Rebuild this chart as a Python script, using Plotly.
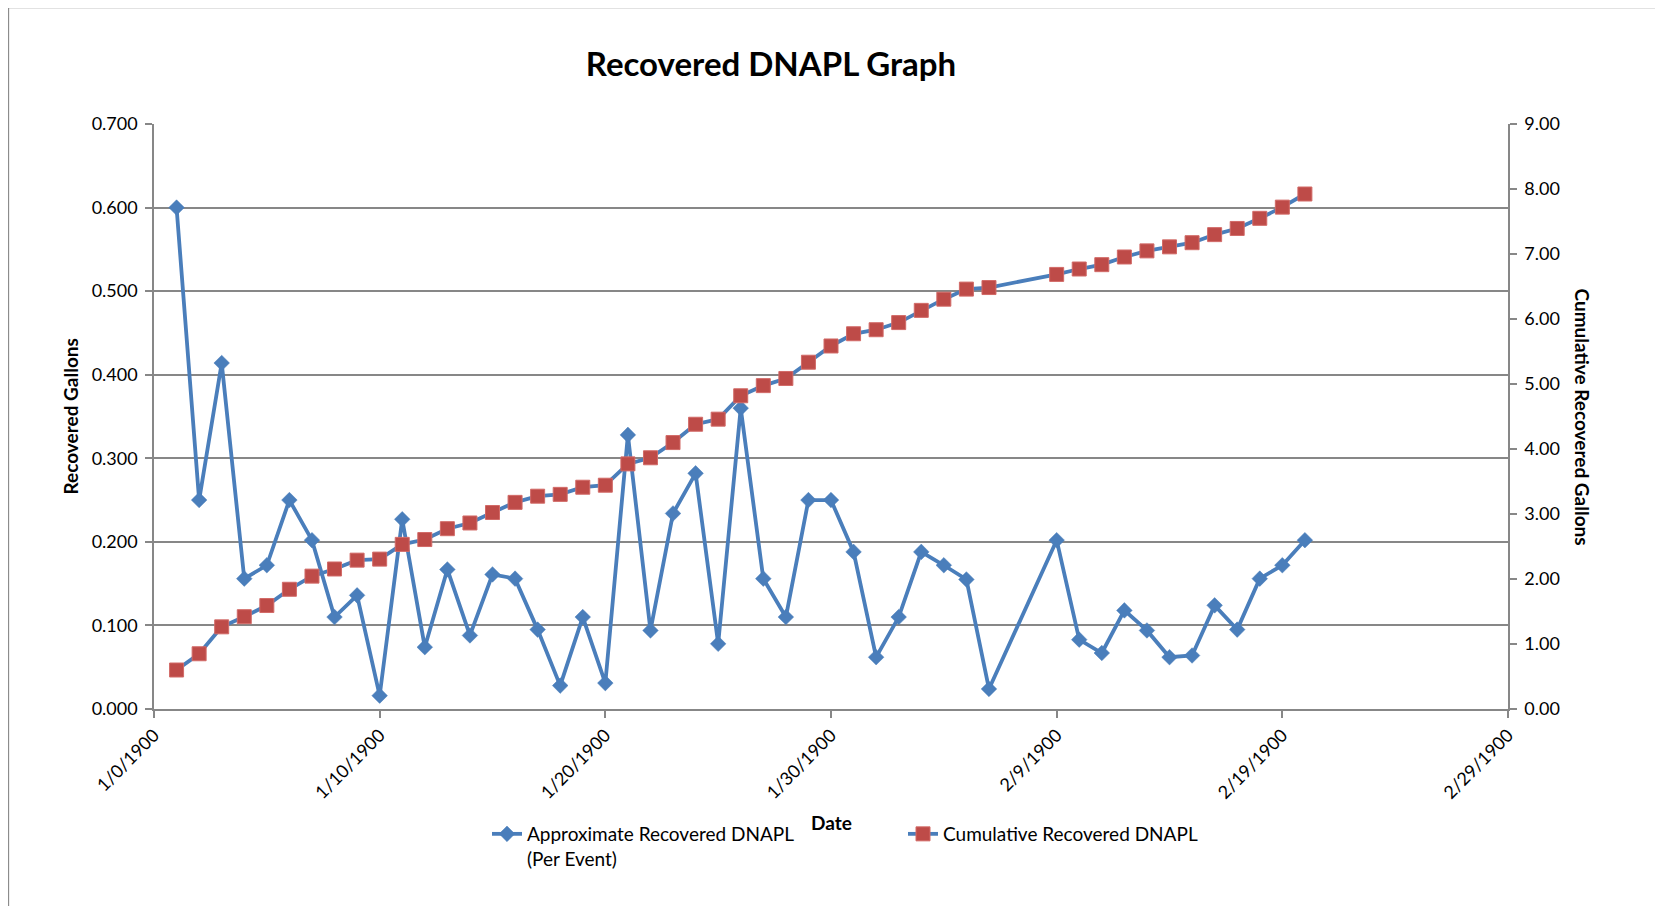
import plotly.graph_objects as go

# ---- data (Excel serial day numbers on x) ----
days = [1, 2, 3, 4, 5, 6, 7, 8, 9, 10,
        11, 12, 13, 14, 15, 16, 17, 18, 19, 20,
        21, 22, 23, 24, 25, 26, 27, 28, 29, 30,
        31, 32, 33, 34, 35, 36, 37,
        40, 41, 42, 43, 44, 45, 46, 47, 48, 49, 50, 51]

per_event = [0.600, 0.250, 0.414, 0.156, 0.172, 0.250, 0.202, 0.110, 0.136, 0.016,
             0.227, 0.074, 0.167, 0.088, 0.161, 0.156, 0.095, 0.028, 0.110, 0.031,
             0.328, 0.094, 0.234, 0.282, 0.078, 0.360, 0.156, 0.110, 0.250, 0.250,
             0.188, 0.062, 0.110, 0.188, 0.172, 0.155, 0.024,
             0.202, 0.083, 0.067, 0.118, 0.094, 0.062, 0.064, 0.124, 0.095, 0.156, 0.172, 0.202]

cumulative = [0.600, 0.850, 1.264, 1.420, 1.592, 1.842, 2.044, 2.154, 2.290, 2.306,
              2.533, 2.607, 2.774, 2.862, 3.023, 3.179, 3.274, 3.302, 3.412, 3.443,
              3.771, 3.865, 4.099, 4.381, 4.459, 4.819, 4.975, 5.085, 5.335, 5.585,
              5.773, 5.835, 5.945, 6.133, 6.305, 6.460, 6.484,
              6.686, 6.769, 6.836, 6.954, 7.048, 7.110, 7.174, 7.298, 7.393, 7.549, 7.721, 7.923]

x_tick_vals = [0, 10, 20, 30, 40, 50, 60]
x_tick_text = ["1/0/1900", "1/10/1900", "1/20/1900", "1/30/1900",
               "2/9/1900", "2/19/1900", "2/29/1900"]

series_names = ["Approximate Recovered DNAPL<br>(Per Event)", "Cumulative Recovered DNAPL"]

# ---- styling ----
FONT = "Lato"
BLUE = "#4A7EBB"
RED = "#BE4B48"
GRID = "#878787"
W, H = 1663, 906
OFF = 8  # page body margin
# plot area in page pixels (reference): left 154, right 1508, top 124, bottom 709
RL, RR, RT, RB = 154, 1508, 124, 709
L, T = RL - OFF, RT - OFF
R, B = W - (RR - OFF), H - (RB - OFF)
pw = RR - RL
ph = RB - RT


def px(x):
    return (x - RL) / pw


def py(y):
    return (RB - y) / ph


fig = go.Figure()
fig.add_trace(go.Scatter(
    x=days, y=per_event, name=series_names[0], mode="lines+markers",
    line=dict(color=BLUE, width=3.8),
    marker=dict(symbol="diamond", size=12, color=BLUE, line=dict(color=BLUE, width=0.5)),
    yaxis="y", cliponaxis=False,
))
fig.add_trace(go.Scatter(
    x=days, y=cumulative, name=series_names[1], mode="lines+markers",
    line=dict(color=BLUE, width=3.8),
    marker=dict(symbol="square", size=14, color=RED, line=dict(color="#D26A67", width=1)),
    yaxis="y2", cliponaxis=False,
))

tickfont = dict(family=FONT, size=18, color="black")

fig.update_layout(
    width=W, height=H,
    margin=dict(l=L, r=R, t=T, b=B, autoexpand=False),
    paper_bgcolor="white", plot_bgcolor="white",
    font=dict(family=FONT, size=18, color="black"),
    title=dict(text="Recovered DNAPL Graph", xref="container", x=(771 - OFF) / W, xanchor="center",
               yref="container", y=1 - (64 - OFF) / H, yanchor="middle",
               font=dict(family=FONT, size=33, color="black", weight="bold")),
    xaxis=dict(range=[0, 60], tickvals=x_tick_vals, ticktext=x_tick_text, tickangle=-45,
               showgrid=False, zeroline=False, showline=True, linecolor=GRID, linewidth=1.5,
               ticks="outside", ticklen=7, tickcolor=GRID, tickwidth=1.5,
               tickfont=tickfont, automargin=False),
    yaxis=dict(range=[0, 0.7], dtick=0.1, tickformat=".3f", showgrid=True, gridcolor=GRID,
               gridwidth=1.5, zeroline=False, showline=True, linecolor=GRID, linewidth=1.5,
               ticks="outside", ticklen=7, tickcolor=GRID, tickwidth=1.5,
               tickfont=tickfont, automargin=False, ticklabelstandoff=4),
    yaxis2=dict(range=[0, 9], dtick=1, tickformat=".2f", overlaying="y", side="right",
                showgrid=False, zeroline=False, showline=True, linecolor=GRID, linewidth=1.5,
                ticks="outside", ticklen=7, tickcolor=GRID, tickwidth=1.5,
                tickfont=tickfont, automargin=False, ticklabelstandoff=4),
    legend=dict(orientation="h", x=px(487), xanchor="left", y=py(815),
                yanchor="top", valign="top", entrywidth=371, entrywidthmode="pixels",
                font=dict(family=FONT, size=19, color="black"), bgcolor="rgba(0,0,0,0)",
                traceorder="normal"),
    showlegend=True,
)

ann_font = dict(family=FONT, size=19, color="black", weight="bold")
fig.add_annotation(text="Recovered Gallons", xref="paper", yref="paper",
                   x=px(70), y=0.5, xanchor="center", yanchor="middle",
                   textangle=-90, showarrow=False, font=ann_font)
fig.add_annotation(text="Cumulative Recovered Gallons", xref="paper", yref="paper",
                   x=px(1582), y=0.5, xanchor="center", yanchor="middle",
                   textangle=90, showarrow=False, font=ann_font)
fig.add_annotation(text="Date", xref="paper", yref="paper",
                   x=0.5, y=py(822), xanchor="center", yanchor="middle",
                   showarrow=False, font=ann_font)

# chart-area border (left and top edges visible)
fig.add_shape(type="rect", xref="paper", yref="paper",
              x0=px(8.5), x1=px(1720), y0=py(960), y1=py(7.5),
              line=dict(color="#8C8C8C", width=1.3), fillcolor="rgba(0,0,0,0)", layer="below")

fig.write_html("out.html")
